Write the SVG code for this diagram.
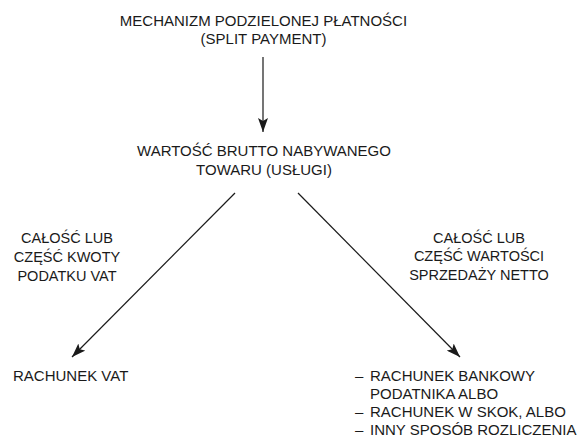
<svg xmlns="http://www.w3.org/2000/svg" width="580" height="443" viewBox="0 0 580 443">
<defs>
<style>
text{font-family:"Liberation Sans",Arial,sans-serif;font-size:15px;fill:#1a1a1a}
.c{text-anchor:middle}
.s{font-size:14.5px}
.ln{stroke:#1a1a1a;stroke-width:1.2;fill:none}
</style>
<marker id="ah" viewBox="0 0 14 10" refX="14" refY="5" markerWidth="14" markerHeight="10" markerUnits="userSpaceOnUse" orient="auto">
<path d="M0,0 L14,5 L0,10 L3,5 Z" fill="#1a1a1a"/>
</marker>
</defs>
<rect width="580" height="443" fill="#fff"/>
<g id="connectors">
<line class="ln" x1="263" y1="57" x2="263" y2="132" marker-end="url(#ah)"/>
<line class="ln" x1="235" y1="193" x2="72" y2="357" marker-end="url(#ah)"/>
<line class="ln" x1="298" y1="193" x2="460" y2="357" marker-end="url(#ah)"/>
</g>
<g id="node-mechanizm">
<text class="c" x="263.5" y="26">MECHANIZM PODZIELONEJ PŁATNOŚCI</text>
<text class="c" x="263.5" y="44">(SPLIT PAYMENT)</text>
</g>
<g id="node-wartosc">
<text class="c" x="264" y="156">WARTOŚĆ BRUTTO NABYWANEGO</text>
<text class="c" x="264" y="175">TOWARU (USŁUGI)</text>
</g>
<g id="label-vat">
<text class="c s" x="67" y="243">CAŁOŚĆ LUB</text>
<text class="c s" x="67" y="262">CZĘŚĆ KWOTY</text>
<text class="c s" x="67" y="281">PODATKU VAT</text>
</g>
<g id="label-netto">
<text class="c s" x="479" y="243">CAŁOŚĆ LUB</text>
<text class="c s" x="479" y="261">CZĘŚĆ WARTOŚCI</text>
<text class="c s" x="479" y="280">SPRZEDAŻY NETTO</text>
</g>
<g id="node-rachunek-vat">
<text x="13" y="381">RACHUNEK VAT</text>
</g>
<g id="node-rachunek-bankowy">
<text x="355" y="381">–</text>
<text x="370" y="381">RACHUNEK BANKOWY</text>
<text x="370" y="399">PODATNIKA ALBO</text>
<text x="355" y="417">–</text>
<text x="370" y="417">RACHUNEK W SKOK, ALBO</text>
<text x="355" y="435">–</text>
<text x="370" y="435">INNY SPOSÓB ROZLICZENIA</text>
</g>
</svg>
